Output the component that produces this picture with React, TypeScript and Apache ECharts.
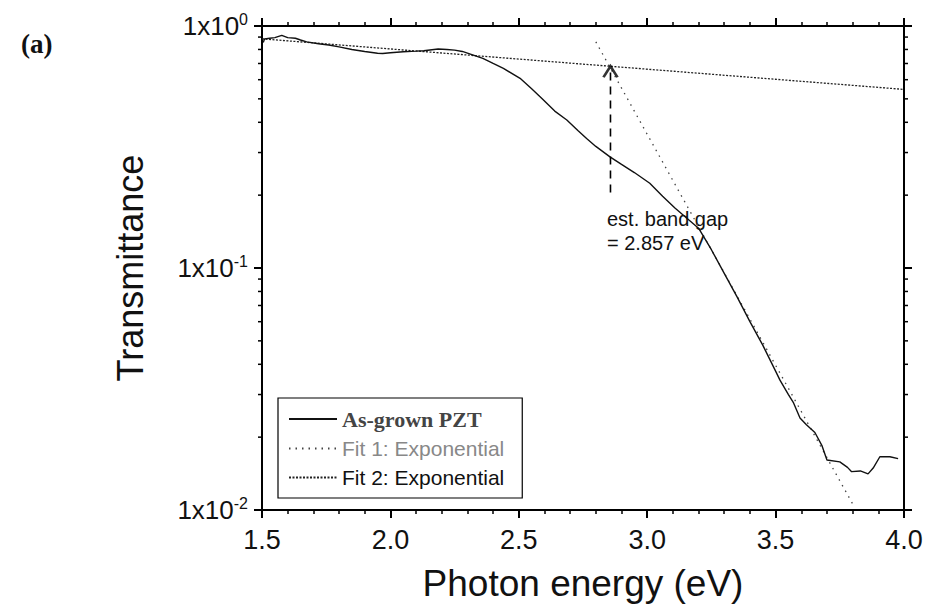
import React, { useEffect, useRef } from "react";
import * as echarts from "echarts";

// Measured curve: As-grown PZT (photon energy in eV, transmittance)
const energy = [
  1.505, 1.51, 1.53, 1.55, 1.577, 1.6, 1.63, 1.65, 1.674, 1.72, 1.76, 1.8, 1.85,
  1.9, 1.95, 1.97, 2.0, 2.05, 2.1, 2.13, 2.186, 2.22, 2.25, 2.28, 2.32, 2.36, 2.4,
  2.44, 2.505, 2.55, 2.59, 2.64, 2.687, 2.73, 2.764, 2.8, 2.855, 2.9, 2.95, 3.01,
  3.06, 3.108, 3.15, 3.2, 3.25, 3.3, 3.35, 3.4, 3.45, 3.5, 3.517, 3.55, 3.57,
  3.595, 3.62, 3.653, 3.68, 3.7, 3.75, 3.78, 3.796, 3.83, 3.86, 3.88, 3.906,
  3.945, 3.977,
];
const transmittance = [
  0.855, 0.885, 0.89, 0.895, 0.915, 0.895, 0.89, 0.875, 0.86, 0.845, 0.835, 0.82,
  0.8, 0.785, 0.772, 0.77, 0.775, 0.783, 0.787, 0.79, 0.803, 0.8, 0.795, 0.785,
  0.76, 0.735, 0.7, 0.668, 0.608, 0.55, 0.502, 0.445, 0.409, 0.37, 0.343, 0.318,
  0.288, 0.268, 0.248, 0.224, 0.198, 0.177, 0.162, 0.146, 0.119, 0.095, 0.076,
  0.06, 0.048, 0.0375, 0.0344, 0.03, 0.0277, 0.024, 0.0225, 0.0209, 0.0185,
  0.0161, 0.0158, 0.015, 0.0144, 0.0145, 0.0141, 0.0149, 0.0166, 0.0166, 0.0163,
];

// Exponential fits (straight on the log axis): endpoints
const fit1Energy = [2.8, 3.8];
const fit1Value = [0.86, 0.0106];
const fit2Energy = [1.5, 4.0];
const fit2Value = [0.885, 0.547];

// Band-gap arrow
const bandGap = 2.857;
const arrowValues = [0.205, 0.682];

// Axes
const xMin = 1.5;
const xMax = 4.0;
const xInterval = 0.5;
const yMin = 0.01;
const yMax = 1;
const yMinorTicks = [
  0.02, 0.03, 0.04, 0.05, 0.06, 0.07, 0.08, 0.09, 0.2, 0.3, 0.4, 0.5, 0.6, 0.7,
  0.8, 0.9,
];

const FONT = "'Liberation Sans', Arial, Helvetica, sans-serif";
const SERIF = "'Liberation Serif', 'Times New Roman', serif";

export default function App() {
  const ref = useRef<HTMLDivElement>(null);

  useEffect(() => {
    if (!ref.current) return;
    const chart = echarts.init(ref.current, undefined, { renderer: "svg" });

    const axisLine = { show: true, lineStyle: { color: "#000", width: 2 } };
    const axisTick = { show: true, inside: false, length: 8, lineStyle: { color: "#000", width: 2 } };
    const minorTick = { show: true, splitNumber: 5, length: 4, lineStyle: { color: "#000", width: 1.5 } };

    const option: any = {
      animation: false,
      backgroundColor: "#fff",
      grid: { left: 262, right: 27, top: 26, bottom: 102, containLabel: false },
      legend: {
        orient: "vertical",
        left: 278,
        top: 398,
        padding: [10, 18, 10, 10],
        itemGap: 8,
        itemWidth: 48,
        itemHeight: 14,
        itemStyle: { opacity: 0 },
        borderColor: "#000",
        borderWidth: 1.2,
        backgroundColor: "#fff",
        selectedMode: false,
        textStyle: { fontFamily: FONT, fontSize: 21, color: "#111" },
        data: [
          {
            name: "As-grown PZT",
            textStyle: { fontFamily: SERIF, fontWeight: "bold", color: "#444", fontSize: 22 },
          },
          { name: "Fit 1: Exponential", textStyle: { color: "#888" } },
          { name: "Fit 2: Exponential", textStyle: { color: "#111" } },
        ],
      },
      xAxis: [
        {
          type: "value",
          position: "bottom",
          min: xMin,
          max: xMax,
          interval: xInterval,
          axisLine,
          axisTick,
          minorTick,
          splitLine: { show: false },
          axisLabel: {
            fontFamily: FONT,
            fontSize: 27,
            color: "#111",
            margin: 16,
            formatter: (v: number) => v.toFixed(1),
          },
          name: "Photon energy (eV)",
          nameLocation: "middle",
          nameGap: 55,
          nameTextStyle: { fontFamily: FONT, fontSize: 37, color: "#111" },
        },
        {
          type: "value",
          position: "top",
          min: xMin,
          max: xMax,
          interval: xInterval,
          axisLine,
          axisTick,
          minorTick,
          splitLine: { show: false },
          axisLabel: { show: false },
        },
      ],
      yAxis: [
        {
          type: "log",
          logBase: 10,
          position: "left",
          min: yMin,
          max: yMax,
          axisLine,
          axisTick,
          splitLine: { show: false },
          axisLabel: {
            margin: 14,
            formatter: (v: number) => `{b|1x10}{s|${Math.round(Math.log10(v))}}`,
            rich: {
              b: { fontFamily: FONT, fontSize: 26, color: "#111", lineHeight: 30 },
              s: { fontFamily: FONT, fontSize: 16, color: "#111", verticalAlign: "top", lineHeight: 18 },
            },
          },
          name: "Transmittance",
          nameLocation: "middle",
          nameGap: 114,
          nameRotate: 90,
          nameTextStyle: { fontFamily: FONT, fontSize: 36, color: "#111" },
        },
        {
          type: "log",
          logBase: 10,
          position: "right",
          min: yMin,
          max: yMax,
          axisLine,
          axisTick,
          splitLine: { show: false },
          axisLabel: { show: false },
        },
      ],
      series: [
        {
          name: "As-grown PZT",
          type: "line",
          data: energy.map((e, i) => [e, transmittance[i]]),
          symbol: "none",
          lineStyle: { color: "#111", width: 1.4 },
          itemStyle: { color: "#111" },
          z: 5,
        },
        {
          name: "Fit 1: Exponential",
          type: "line",
          data: fit1Energy.map((e, i) => [e, fit1Value[i]]),
          symbol: "none",
          lineStyle: { color: "#444", width: 1.3, type: [1.5, 5] },
          itemStyle: { color: "#444" },
          z: 4,
        },
        {
          name: "Fit 2: Exponential",
          type: "line",
          data: fit2Energy.map((e, i) => [e, fit2Value[i]]),
          symbol: "none",
          lineStyle: { color: "#222", width: 1.3, type: [2, 1.5] },
          itemStyle: { color: "#222" },
          z: 4,
        },
        {
          name: "gap-arrow",
          type: "line",
          data: arrowValues.map((v) => [bandGap, v]),
          symbol: "none",
          lineStyle: { color: "#000", width: 1.6, type: [8, 6] },
          z: 6,
        },
        {
          name: "gap-arrow-head",
          type: "scatter",
          data: [[bandGap, arrowValues[1]]],
          symbol: "path://M0,12 L8,0 L16,12",
          symbolSize: [14, 11],
          symbolOffset: [0, "50%"],
          itemStyle: { color: "rgba(0,0,0,0)", borderColor: "#000", borderWidth: 2.4 },
          z: 7,
        },
        {
          name: "y-minor-ticks",
          type: "custom",
          data: yMinorTicks.map((v) => [xMin, v]),
          renderItem: (params: any, api: any) => {
            const v = api.value(1);
            const pl = api.coord([xMin, v]);
            const pr = api.coord([xMax, v]);
            const st = { stroke: "#000", lineWidth: 1.5 };
            return {
              type: "group",
              children: [
                { type: "line", shape: { x1: pl[0] - 4, y1: pl[1], x2: pl[0], y2: pl[1] }, style: st },
                { type: "line", shape: { x1: pr[0], y1: pr[1], x2: pr[0] + 4, y2: pr[1] }, style: st },
              ],
            };
          },
          clip: false,
          silent: true,
        },
      ],
      graphic: [
        {
          type: "text",
          left: 21,
          top: 30,
          style: {
            text: "(a)",
            fontFamily: SERIF,
            fontWeight: "bold",
            fontSize: 27,
            fill: "#111",
          },
        },
        {
          type: "text",
          left: 607,
          top: 207,
          style: {
            text: "est. band gap\n= 2.857 eV",
            fontFamily: FONT,
            fontSize: 20,
            lineHeight: 24,
            fill: "#111",
          },
        },
      ],
    };

    chart.setOption(option);
    return () => chart.dispose();
  }, []);

  return (
    <div
      ref={ref}
      style={{ position: "fixed", left: 0, top: 0, width: 931, height: 612, background: "#fff" }}
    />
  );
}
